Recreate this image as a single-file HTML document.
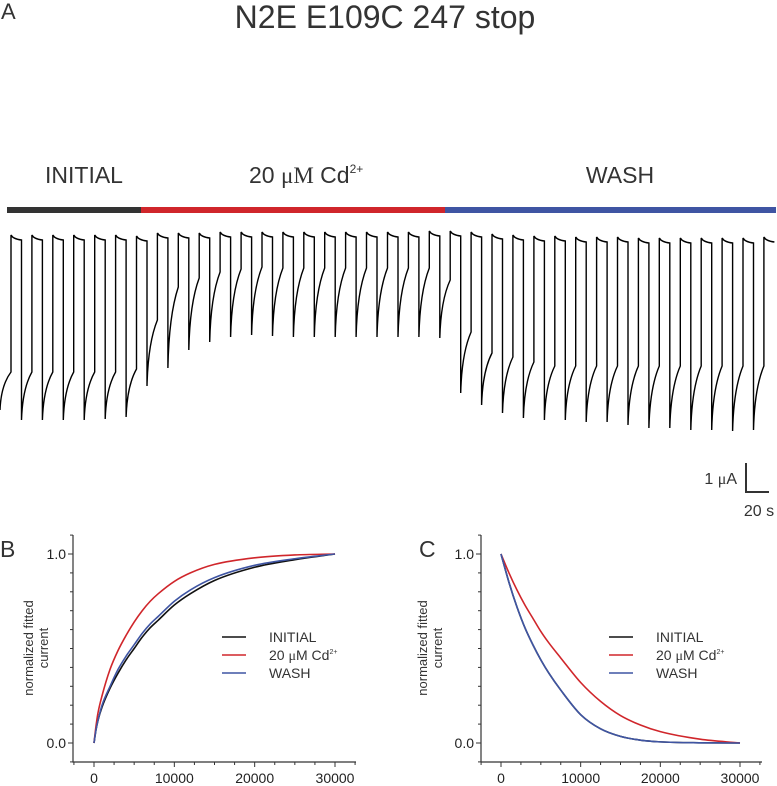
<!DOCTYPE html>
<html><head><meta charset="utf-8"><style>
html,body{margin:0;padding:0;background:#fff;}
svg{display:block;font-family:"Liberation Sans",sans-serif;}
</style></head><body>
<svg id="fig" width="777" height="786" viewBox="0 0 777 786" xmlns="http://www.w3.org/2000/svg">
<text x="1" y="19" font-size="22" fill="#333">A</text>
<text x="385" y="28" font-size="32" fill="#333" text-anchor="middle">N2E E109C 247 stop</text>
<text x="45" y="183" font-size="23" fill="#333">INITIAL</text>
<text x="249" y="183" font-size="23" fill="#333">20 <tspan font-family="'Liberation Serif',serif">μM</tspan> Cd<tspan font-size="12" dy="-10">2+</tspan></text>
<text x="620" y="183" font-size="23" fill="#333" text-anchor="middle">WASH</text>
<rect x="7" y="207" width="134" height="6" fill="#333"/>
<rect x="141" y="207" width="304" height="6" fill="#d0262b"/>
<rect x="445" y="207" width="331" height="6" fill="#3f55a3"/>
<path id="trace" fill="none" stroke="#000" stroke-width="1.4"/>
<g>
<line x1="746" y1="463" x2="746" y2="493" stroke="#333" stroke-width="2"/>
<line x1="745" y1="492" x2="769" y2="492" stroke="#333" stroke-width="2"/>
<text x="737" y="484" font-size="16" fill="#333" text-anchor="end">1 <tspan font-family="'Liberation Serif',serif">μ</tspan>A</text>
<text x="759" y="516" font-size="16" fill="#333" text-anchor="middle">20 s</text>
</g>
<text x="0" y="557" font-size="23" fill="#333">B</text>
<text x="419" y="557" font-size="23" fill="#333">C</text>
<g id="panelB"></g>
<g id="panelC"></g>
</svg>
<script>
// ---- Trace data (panel A) ----
const sweepTops = [235,235,235,235,235,235,236,233,233,233,232,232,232,232,232,232,232,232,232,232,231,231,232,234,235,236,236,237,237,237,238,238,238,238,238,238,237];
const sweepBottoms = [420,420,420,420,419,417,386,368,350,342,337,335,336,337,337,337,337,337,337,337,338,393,405,413,418,420,420,422,422,425,428,428,430,430,431,430];
const sweepRecovery = [372,372,372,372,372,369,320,287,278,272,269,267,268,268,268,268,268,268,268,268,280,332,353,357,362,366,366,366,366,366,366,366,366,366,366,366];
const preBottom = 410, preRecovery = 372;

// ---- Panel B / C data ----
const timesB = [0,250,500,1000,2000,3000,4000,5000,6000,7000,8000,10000,12000,15000,20000,25000,30000];
const riseInitial = [0,0.07,0.12,0.19,0.29,0.37,0.44,0.50,0.56,0.61,0.65,0.73,0.79,0.86,0.93,0.97,1.0];
const riseCd = [0,0.09,0.16,0.25,0.39,0.49,0.57,0.64,0.70,0.75,0.79,0.855,0.90,0.945,0.98,0.995,1.0];
const riseWash = [0,0.07,0.12,0.20,0.30,0.39,0.46,0.52,0.58,0.63,0.67,0.75,0.81,0.875,0.94,0.975,1.0];
const timesC = [0,1000,2000,3000,4000,5000,6000,7500,10000,12500,15000,17500,20000,25000,30000];
const decayInitial = [1,0.85,0.72,0.61,0.52,0.44,0.37,0.28,0.15,0.075,0.035,0.015,0.006,0.001,0];
const decayCd = [1,0.90,0.81,0.73,0.66,0.59,0.53,0.45,0.32,0.22,0.145,0.095,0.06,0.02,0];
const decayWash = [1,0.85,0.72,0.61,0.52,0.44,0.37,0.28,0.15,0.075,0.035,0.015,0.006,0.001,0];
const xTicks = [0,10000,20000,30000];
const xTickLabels = ["0","10000","20000","30000"];
const yTicks = [0,1];
const yTickLabels = ["0.0","1.0"];
const legendLabels = ["INITIAL","20 μM Cd","WASH"];

const NS = "http://www.w3.org/2000/svg";

(function(){
  const x0 = 11, p = (753-21)/35, dropOff = 10.5;
  let d = `M0,${preBottom} Q1,${preRecovery+(preBottom-preRecovery)*0.35} ${x0},${preRecovery}`;
  for (let k=0;k<sweepTops.length;k++){
    const xu = x0 + k*p, t = sweepTops[k];
    d += ` L${xu.toFixed(1)},${t}`;
    if (k < sweepBottoms.length){
      const xd = xu + dropOff, b = sweepBottoms[k], r = sweepRecovery[k];
      d += ` Q${(xu+2).toFixed(1)},${t+4} ${xd.toFixed(1)},${t+5}`;
      d += ` L${xd.toFixed(1)},${b}`;
      d += ` Q${(xd+1).toFixed(1)},${(r+(b-r)*0.35).toFixed(1)} ${(xu+p).toFixed(1)},${r}`;
    } else {
      d += ` Q${(xu+2).toFixed(1)},${t+4} ${Math.min(xu+10.5,776).toFixed(1)},${t+5}`;
    }
  }
  document.getElementById('trace').setAttribute('d', d);
})();

function mk(parent, tag, attrs){
  const e = document.createElementNS(NS, tag);
  for (const k in attrs) e.setAttribute(k, attrs[k]);
  parent.appendChild(e);
  return e;
}

function smoothPath(xs, ys){
  // monotone cubic (Fritsch-Carlson)
  const n = xs.length, m = new Array(n), dl = [];
  for (let i=0;i<n-1;i++) dl.push((ys[i+1]-ys[i])/(xs[i+1]-xs[i]));
  m[0]=dl[0]; m[n-1]=dl[n-2];
  for (let i=1;i<n-1;i++){ m[i] = (dl[i-1]*dl[i]<=0)?0:(dl[i-1]+dl[i])/2; }
  for (let i=0;i<n-1;i++){
    if (dl[i]===0){m[i]=0;m[i+1]=0;continue;}
    const a=m[i]/dl[i], b=m[i+1]/dl[i], s=a*a+b*b;
    if (s>9){const t=3/Math.sqrt(s); m[i]=t*a*dl[i]; m[i+1]=t*b*dl[i];}
  }
  let d = `M${xs[0].toFixed(1)},${ys[0].toFixed(1)}`;
  for (let i=0;i<n-1;i++){
    const h = xs[i+1]-xs[i];
    d += ` C${(xs[i]+h/3).toFixed(2)},${(ys[i]+m[i]*h/3).toFixed(2)} ${(xs[i+1]-h/3).toFixed(2)},${(ys[i+1]-m[i+1]*h/3).toFixed(2)} ${xs[i+1].toFixed(2)},${ys[i+1].toFixed(2)}`;
  }
  return d;
}

function panel(gid, axX, x0px, x30px, axEnd, times, series, legX, labX){
  const g = document.getElementById(gid);
  const xs = t => x0px + t*(x30px-x0px)/30000;
  const ys = v => 743 - v*189;
  const ax = mk(g,'path',{d:`M${axX},535 L${axX},762 L${axEnd},762`,fill:'none',stroke:'#333','stroke-width':1.2});
  
  
  for (let t=-2500;t<=32500;t+=2500){
    const major = t%10000===0;
    const tk = mk(g,'line',{x1:xs(t),x2:xs(t),y1:762,y2:major?767:765,stroke:'#333','stroke-width':1});
    
    
  }
  xTicks.forEach((t,i)=>{
    const tl = mk(g,'text',{x:xs(t),y:783,'font-size':14,fill:'#222','text-anchor':'middle'});
    tl.textContent = xTickLabels[i];
    
    
  });
  for (let v=-0.1; v<=1.11; v+=0.1){
    const major = Math.abs(v)<0.01 || Math.abs(v-1)<0.01;
    const tk = mk(g,'line',{x1:axX,x2:axX-(major?5:3),y1:ys(v),y2:ys(v),stroke:'#333','stroke-width':1});
    
    
  }
  yTicks.forEach((v,i)=>{
    const tl = mk(g,'text',{x:axX-7,y:ys(v)+5,'font-size':14,fill:'#222','text-anchor':'end'});
    tl.textContent = yTickLabels[i];
    
    
  });
  const lab = mk(g,'text',{transform:`translate(${labX},648) rotate(-90)`,'font-size':13,fill:'#333','text-anchor':'middle'});
  
  
  const t1 = mk(lab,'tspan',{x:0,dy:0}); t1.textContent='normalized fitted';
  const t2 = mk(lab,'tspan',{x:0,dy:15}); t2.textContent='current';
  const colors = ['#111','#d0262b','#3f55a3'];
  series.forEach((vals,i)=>{
    const pth = mk(g,'path',{d:smoothPath(times.map(xs), vals.map(ys)),fill:'none',stroke:colors[i],'stroke-width':1.6});
    
    
  });
  legendLabels.forEach((lbl,i)=>{
    const y = 637 + i*18;
    const ln = mk(g,'line',{x1:legX,x2:legX+24,y1:y,y2:y,stroke:colors[i],'stroke-width':1.6});
    
    
    const tx = mk(g,'text',{x:legX+47,y:y+5,'font-size':14,fill:'#333'});
    
    
    if (i===1){
      tx.textContent = '20 ';
      const mu = mk(tx,'tspan',{'font-family':"'Liberation Serif',serif"}); mu.textContent='μ';
      const r = mk(tx,'tspan',{}); r.textContent='M Cd';
      const sp = mk(tx,'tspan',{'font-size':7,dy:-6}); sp.textContent='2+';
    } else tx.textContent = lbl;
  });
}
panel('panelB', 73, 94, 335, 356, timesB, [riseInitial, riseCd, riseWash], 222, 33);
panel('panelC', 481, 501, 740, 762, timesC, [decayInitial, decayCd, decayWash], 609, 427);
</script>
</body></html>
